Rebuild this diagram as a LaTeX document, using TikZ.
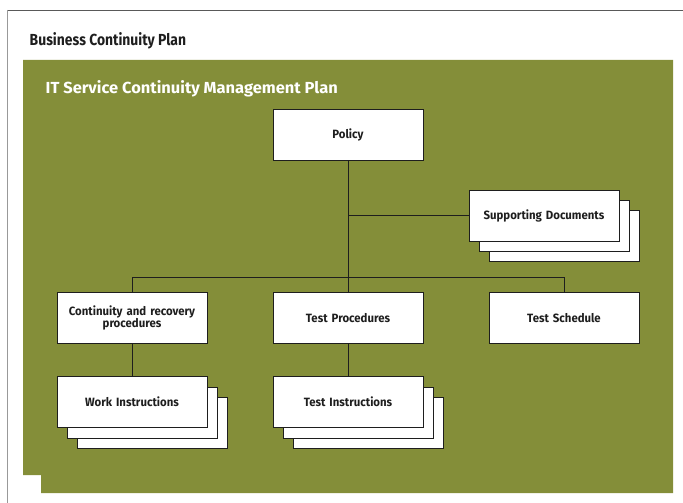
\documentclass[tikz,border=0pt]{standalone}
\usepackage{fontspec}
\setmainfont{Fira Sans}
\newfontfamily\headfont[FakeStretch=0.87]{Fira Sans}
\newfontfamily\panelfont[FakeStretch=1.03]{Fira Sans}
\newfontfamily\boxfont[FakeStretch=0.95]{Fira Sans}
\definecolor{olive}{HTML}{848E39}
\definecolor{ink}{HTML}{1E1E1E}
\begin{document}
\begin{tikzpicture}[x=1pt,y=-1pt,
  doc/.style={draw=ink,line width=0.9pt,fill=white,minimum width=150pt,minimum height=51pt,
    inner sep=2pt,align=center,text width=146pt,font=\boxfont\bfseries\fontsize{12}{11}\selectfont,text=ink},
  shadow/.style={draw=ink,line width=0.9pt,fill=white},
  link/.style={draw=ink,line width=0.9pt}]
  \useasboundingbox (0,0) rectangle (683,503);
  % outer frame of the business continuity plan
  \draw[gray!70!black,line width=1pt] (683,10.5) -- (7.5,10.5);
  \draw[gray!80,line width=1pt] (7.5,10) -- (7.5,503);
  \node[anchor=base west,inner sep=0pt,font=\headfont\bfseries\fontsize{16}{18}\selectfont,text=ink] (bcp) at (29.5,45.5) {Business Continuity Plan};
  % IT service continuity panel with its notch
  \fill[olive] (23,60) -- (673,60) -- (673,493) -- (41,493) -- (41,475) -- (23,475) -- cycle;
  \node[anchor=base west,inner sep=0pt,font=\panelfont\bfseries\fontsize{16}{18}\selectfont,text=white] (itsc) at (45.5,94) {IT Service Continuity Management Plan};
  % stacked sheets behind the document sets
  \foreach \x/\y in {469/190,57/377,273/377}{
    \draw[shadow] (\x+20,\y+20) rectangle ++(150,51);
    \draw[shadow] (\x+10,\y+10) rectangle ++(150,51);
  }
  % documents
  \node[doc] (policy) at (348,135) {Policy};
  \node[doc] (supp) at (544,215.5) {Supporting Documents};
  \node[doc] (cont) at (132,318) {Continuity and recovery\\procedures};
  \node[doc] (tproc) at (348,318) {Test Procedures};
  \node[doc] (tsched) at (564,318) {Test Schedule};
  \node[doc] (work) at (132,401.5) {Work Instructions};
  \node[doc] (tinstr) at (348,401.5) {Test Instructions};
  % hierarchy
  \coordinate (bus) at (348,277);
  \draw[link] (policy.south) -- (bus);
  \draw[link] (policy.south |- supp.west) -- (supp.west);
  \draw[link] (cont.north) -- (cont.north |- bus) -- (tsched.north |- bus) -- (tsched.north);
  \draw[link] (bus) -- (tproc.north);
  \draw[link] (cont.south) -- (work.north);
  \draw[link] (tproc.south) -- (tinstr.north);
\end{tikzpicture}
\end{document}
